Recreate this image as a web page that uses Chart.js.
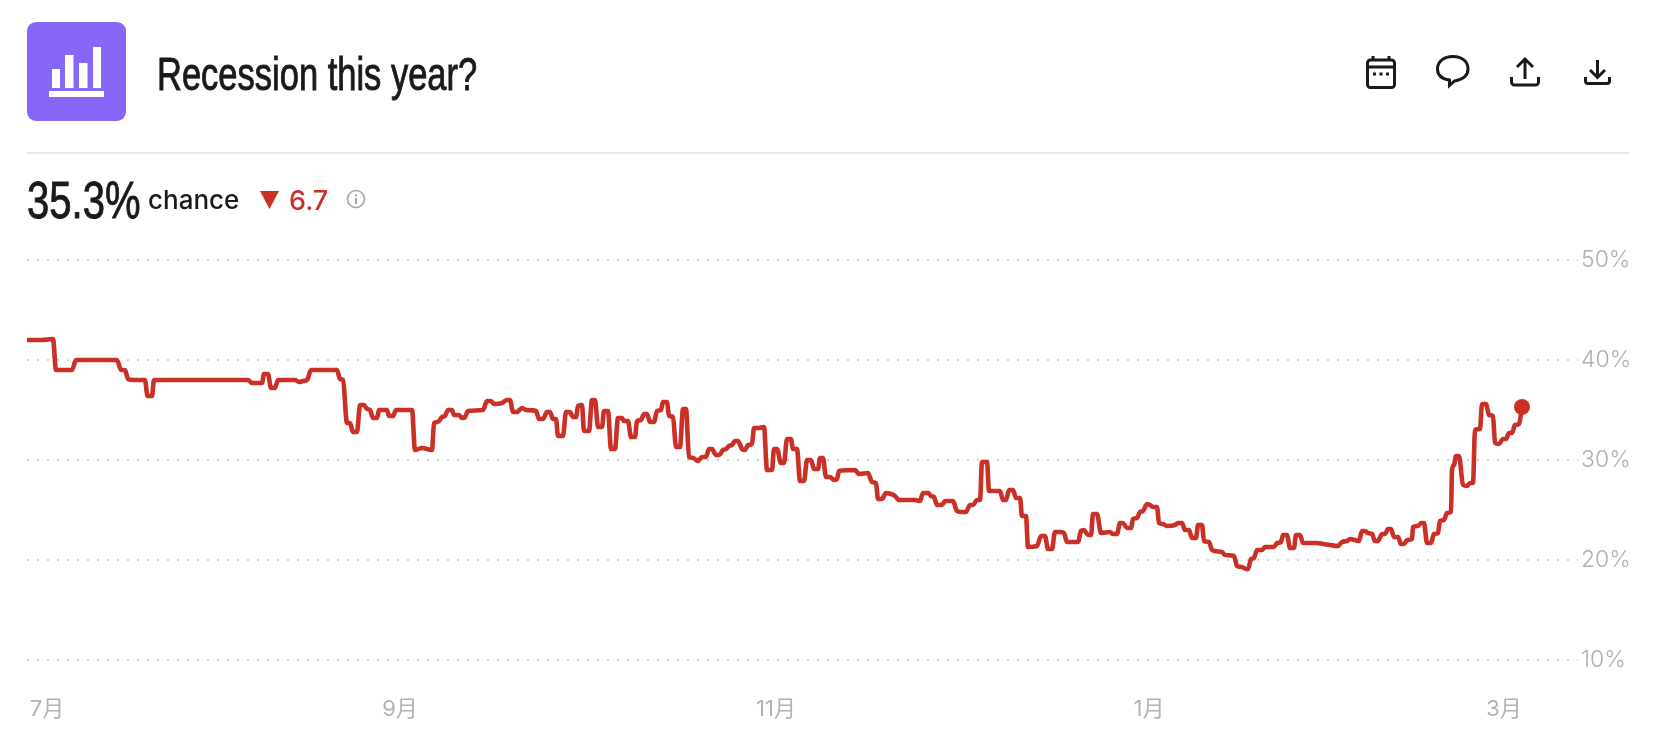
<!DOCTYPE html>
<html><head><meta charset="utf-8">
<script src="https://cdn.jsdelivr.net/npm/chart.js@4"></script>
<style>
html,body{margin:0;padding:0;background:#fff;width:1662px;height:753px;overflow:hidden}
canvas{position:absolute;left:0;top:0}
.a{position:absolute;white-space:nowrap;line-height:1}
#logo{left:27px;top:22px;width:99px;height:99px;border-radius:9px;background:#8866f8}
#title{left:157px;top:47px;font:400 46px "Liberation Sans",sans-serif;color:#1a1a1a;transform-origin:0 0;transform:scaleX(.75);-webkit-text-stroke:.9px #1a1a1a}
#hr{left:27px;top:152px;width:1602px;height:2px;background:#e9e9e9}
#big{left:27px;top:171px;font:400 51px "Liberation Sans",sans-serif;color:#1a1a1a;transform-origin:0 0;transform:scaleX(.785);-webkit-text-stroke:.9px #1a1a1a}
#chance{left:148px;top:184px;font:500 26px "Inter",sans-serif;color:#1a1a1a}
#delta{left:289px;top:184px;font:500 27px "Inter",sans-serif;color:#cb3027}
svg{position:absolute;overflow:visible}
</style></head><body>
<canvas id="c" width="1662" height="753"></canvas>
<div class="a" id="logo"></div>
<svg style="left:27px;top:22px" width="99" height="99" viewBox="0 0 99 99" fill="#fff">
<rect x="25" y="47" width="8" height="19"/><rect x="38" y="33" width="8.500" height="33"/><rect x="52" y="41" width="8.500" height="25"/><rect x="66" y="25" width="8" height="41"/><rect x="22" y="69" width="55" height="6"/></svg>
<div class="a" id="title">Recession this year?</div>
<svg style="left:1366px;top:55px" width="30" height="34" viewBox="0 0 30 34" fill="none" stroke="#1a1a1a" stroke-width="3">
<rect x="1.5" y="5" width="27" height="27.5" rx="3"/><path d="M1.5 12h27M7 1v5M23 1v5"/><path d="M7 19h3M13.5 19h3M20 19h3" stroke-width="3"/></svg>
<svg style="left:1436px;top:55px" width="34" height="33" viewBox="0 0 34 33" fill="none" stroke="#1a1a1a" stroke-width="3">
<path d="M17 1.5C8 1.5 1.5 6.5 1.5 14c0 6 4.5 10 12 11l0 5.5 5-4.5c8-1.500 13.500-5.500 13.500-12C32 6.500 26 1.500 17 1.500z"/></svg>
<svg style="left:1510px;top:57px" width="30" height="30" viewBox="0 0 30 30" fill="none" stroke="#1a1a1a" stroke-width="3">
<path d="M15 22V3M7 10l8-8 8 8M1.500 20v5a3 3 0 0 0 3 3h21a3 3 0 0 0 3-3v-5"/></svg>
<svg style="left:1584px;top:59px" width="27" height="26" viewBox="0 0 27 26" fill="none" stroke="#1a1a1a" stroke-width="3">
<path d="M13.500 1v17M6 11l7.500 7.500L21 11M1.500 18v4a2.500 2.500 0 0 0 2.500 2.500h19a2.500 2.500 0 0 0 2.500-2.500v-4"/></svg>
<div class="a" id="hr"></div>
<div class="a" id="big">35.3%</div>
<div class="a" id="chance">chance</div>
<svg style="left:260px;top:191px" width="19" height="18" viewBox="0 0 19 18"><path d="M0 0h19L9.500 18z" fill="#cb3027"/></svg>
<div class="a" id="delta">6.7</div>
<svg style="left:346px;top:189px" width="20" height="20" viewBox="0 0 20 20"><circle cx="10" cy="10" r="8.500" fill="none" stroke="#a8a8a8" stroke-width="1.700"/><rect x="9" y="9" width="2" height="6" fill="#a8a8a8"/><rect x="9" y="5.500" width="2" height="2" fill="#a8a8a8"/></svg>
<script>
// Time position of each reading along the axis (about one step per 3.9 hours, from the first reading).
const readingSteps = [
0,15,26,29,45,49,90,94,98,101,106,118,120.5,125,127,221,225,235,237,241,244,248,251,268,272,276,280,284,310,313,316,320,323,326,330,333,337,340,343,346,350,352,360,362,366,369,385,
388,395,405,407,411,415,418,421,425,427,432,435,438,441,456,460,464,467,475,480,483,486,490,495,499,509,512,516,520,523,526,529,531,536,539,543,546,549,551,555,557,562,565,568,571,575,577,581,584,588,591,595,597,601,604,608,610,614,617,620,623,627,630,634,636,640,642,646,649,653,656,659,662,666,671,675,679,682,685,689,692,696,699,702,705,708,711,715,718,721,725,727,732,737,
740,745,747,750,754,757,760,764,766,770,773,777,780,784,787,791,793,796,799,803,807,810,812,828,832,841,845,849,851,855,859,864,868,872,888,893,896,901,904,907,910,915,918,926,930,935,939,943,946,950,953,955,960,962,973,976,979,982,986,989,993,995,999,1001,1010,1014,1018,1021,1025,1028,1033,1037,1040,1051,1054,1057,1061,1064,1066,1070,1074,1083,1086,1090,1093,1096,1100,1104,1106,1110,1113,1116,1120,1123,1126,1130,1132,
1136,1140,1148,1151,1155,1158,1162,1165,1169,1171,1175,1177,1182,1185,1195,1198,1207,1210,1215,1219,1221,1224,1227,1230,1235,1238,1247,1250,1254,1256,1260,1263,1267,1269,1273,1276,1290,1296,1303,1311,1315,1320,1323,1332,1335,1338,1341,1345,1348,1351,1355,1358,1361,1364,1367,1371,1374,1377,1380,1385,1386,1391,1394,1397,1400,1404,1407,1411,1413,1417,1420,1424,1425,1427,1429,1432,1436,1440,1443,1446,1448,1453,1455,1459,1462,1466,1468,1472,1476,1479,1482,1485,1488,1492,1495];
// Chance of recession, percent.
const chancePct = [
42,42,42.1,39,39,40,40,39,39,38.1,38,38,36.4,36.4,38,38,37.7,37.7,38.6,38.6,37.2,37.2,38,38,37.8,37.9,38,39,39,38.1,38,33.7,33.7,32.8,32.8,35.5,35.5,35.1,35,34.2,34.2,35,35,34.4,34.4,35,35,
31,31.2,31,33.7,33.8,34.3,34.4,35,35,34.5,34.5,34.2,34.3,34.9,35,35.9,35.9,35.6,35.7,36,36,34.8,34.8,35.2,35,34.9,34.1,34.1,34.8,34.8,34.1,34.1,32.4,32.4,34.8,34.8,34.3,34.3,35.4,35.5,32.9,32.9,36,36,33.3,33.3,34.9,34.9,31.1,31.1,34.2,34.2,33.9,33.9,32.3,32.3,33.9,34,34.6,34.6,33.8,33.8,34.9,35,35.8,35.8,34.4,34.3,31.3,31.3,35.1,35.1,30.3,30.2,29.9,30.3,30.3,31.1,31.1,30.5,30.5,31,31.1,31.4,31.5,31.9,31.9,31.1,31,31.5,31.6,33.2,33.2,33.3,
29,29,31.1,31.1,29.7,29.7,32.1,32.1,31.1,31.1,27.9,27.9,30,30,29.1,29.1,30.2,30.2,28.3,28.3,28,28.1,28.9,29,28.6,28.7,27.8,27.7,26.1,26.1,26.7,26.6,26.4,26,26,25.9,26.7,26.7,26.4,26.3,25.5,25.5,25.9,25.9,24.9,24.8,24.8,25.5,25.5,26,26,29.8,29.8,26.9,26.9,26,26,27,27,26.2,26.2,24.4,24.4,21.3,21.4,22.4,22.4,21.1,21.1,22.8,22.8,22.7,21.8,21.8,22.9,23,22.5,22.5,24.6,24.6,22.7,22.8,22.6,22.6,23.7,23.7,23.2,23.2,24.1,24.2,24.8,24.9,25.6,25.5,25.3,25.3,23.7,
23.6,23.4,23.5,23.7,23.7,23,23,22.2,22.2,23.5,23.5,21.9,21.8,21,20.8,20.5,20.4,19.4,19.3,19.1,19.1,20.1,20.2,21,21,21.3,21.3,21.7,21.8,22.5,22.5,21.2,21.2,22.5,22.5,21.7,21.7,21.6,21.5,21.4,21.8,21.9,22.1,21.9,22.9,22.9,22.7,22.6,21.9,21.9,22.6,22.6,23.1,23.1,22.3,22.3,21.6,21.6,22,22.1,23.3,23.4,23.7,23.7,21.7,21.7,22.6,22.7,23.9,24,24.7,24.8,29,29.5,30.4,30.4,27.5,27.4,27.7,27.7,33,33.1,35.6,35.6,34.5,34.4,31.7,31.6,32.1,32.1,32.7,32.7,33.5,33.6,35.3];
const monthLabels = ['7月','9月','11月','1月','3月'];
const monthSteps = [20,373,749,1122,1477];
const percentTicks = [10,20,30,40,50];
const axisEndStep = 1551;

const RED = '#cb3027';
const points = readingSteps.map((x,i)=>({x, y: chancePct[i]}));
new Chart(document.getElementById('c'),{
  type:'line',
  data:{datasets:[{data:points,borderColor:RED,backgroundColor:RED,borderWidth:4.6,
    cubicInterpolationMode:'monotone',borderCapStyle:'butt',borderJoinStyle:'round',
    pointRadius:c=>c.dataIndex===points.length-1?8:0,pointBorderWidth:0,pointBackgroundColor:RED,clip:false}]},
  options:{responsive:false,animation:false,devicePixelRatio:1,
    layout:{padding:{left:27,top:260,right:0,bottom:0}},
    plugins:{legend:{display:false},tooltip:{enabled:false},title:{display:false}},
    scales:{
      x:{type:'linear',min:0,max:axisEndStep,
        afterBuildTicks:s=>{s.ticks=monthSteps.map(value=>({value}))},
        afterFit:s=>{s.height=93;s.paddingLeft=0;s.paddingRight=0},
        grid:{display:false},border:{display:false},
        ticks:{autoSkip:false,maxRotation:0,padding:28,color:'#b3b3b3',
          font:{family:'Inter,"Noto Sans CJK JP",sans-serif',size:22},
          callback:v=>monthLabels[monthSteps.indexOf(v)]}},
      y:{position:'right',min:10,max:50,
        afterBuildTicks:s=>{s.ticks=percentTicks.map(value=>({value}))},
        afterFit:s=>{s.width=84},
        border:{display:false,dash:[2,8]},
        grid:{color:'#cfcfcf',lineWidth:2,drawTicks:false},
        ticks:{padding:3,color:'#b0b0b0',font:{family:'Inter,sans-serif',size:23,weight:'300'},
          callback:v=>v+'%'}}
    }}
});
</script>
</body></html>
